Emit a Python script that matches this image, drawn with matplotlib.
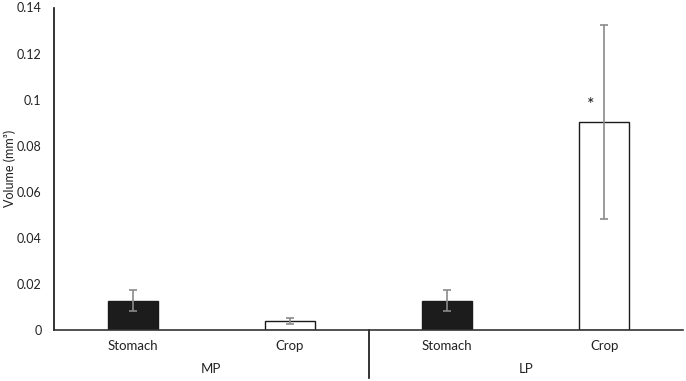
import matplotlib
matplotlib.use("Agg")
import matplotlib.pyplot as plt
import matplotlib.transforms as mtransforms

categories = ["Stomach", "Crop", "Stomach", "Crop"]
groups = ["MP", "LP"]
values = [0.0127, 0.0039, 0.0127, 0.0904]
errors = [0.0045, 0.0015, 0.0045, 0.042]
colors = ["#1c1c1c", "#ffffff", "#1c1c1c", "#ffffff"]
yticks = [0, 0.02, 0.04, 0.06, 0.08, 0.1, 0.12, 0.14]
ytick_labels = ["0", "0.02", "0.04", "0.06", "0.08", "0.1", "0.12", "0.14"]

plt.rcParams['font.family'] = ['Lato', 'DejaVu Sans']

fig = plt.figure(figsize=(6.86, 3.81), dpi=100)
ax = fig.add_axes([54/686, (381-330)/381, (683-54)/686, (330-7.5)/381])

positions = list(range(len(values)))
ax.bar(positions, values, width=0.318, color=colors, edgecolor="#1a1a1a",
       linewidth=1.0, zorder=2)
ax.errorbar(positions, values, yerr=errors, fmt="none", ecolor="#8a8a8a",
            elinewidth=1.2, capsize=3, capthick=1.2, zorder=3)

ax.text(positions[3] - 0.09, values[3] + 0.0072, "*", ha="center", va="center",
        fontsize=13, color="#1a1a1a")

ax.set_xlim(-0.5, 3.5)
ax.set_ylim(0, 0.14)
ax.set_yticks(yticks)
ax.set_yticklabels(ytick_labels, fontsize=9, color="#222222")
ax.tick_params(axis="y", length=0, pad=9)
ax.set_xticks([])

for s in ["top", "right"]:
    ax.spines[s].set_visible(False)
ax.spines["left"].set_color("#111111")
ax.spines["bottom"].set_color("#333333")
ax.spines["left"].set_linewidth(1.2)
ax.spines["bottom"].set_linewidth(1.2)

fig.text(10/686, 1 - 168/381, "Volume (mm³)", rotation=90, ha="center",
         va="center", fontsize=9, color="#222222")

trans = mtransforms.blended_transform_factory(ax.transData, ax.transAxes)
for p, c in zip(positions, categories):
    ax.text(p, -16/322.5, c, transform=trans, ha="center", va="center",
            fontsize=9.5, color="#222222")
for i, g in enumerate(groups):
    ax.text(positions[2*i] + 0.5, -39/322.5, g, transform=trans, ha="center",
            va="center", fontsize=9.5, color="#222222")
ax.plot([1.5, 1.5], [0, -48/322.5], transform=trans, color="#111111",
        linewidth=1.2, clip_on=False)

fig.savefig("out.png", dpi=100)
